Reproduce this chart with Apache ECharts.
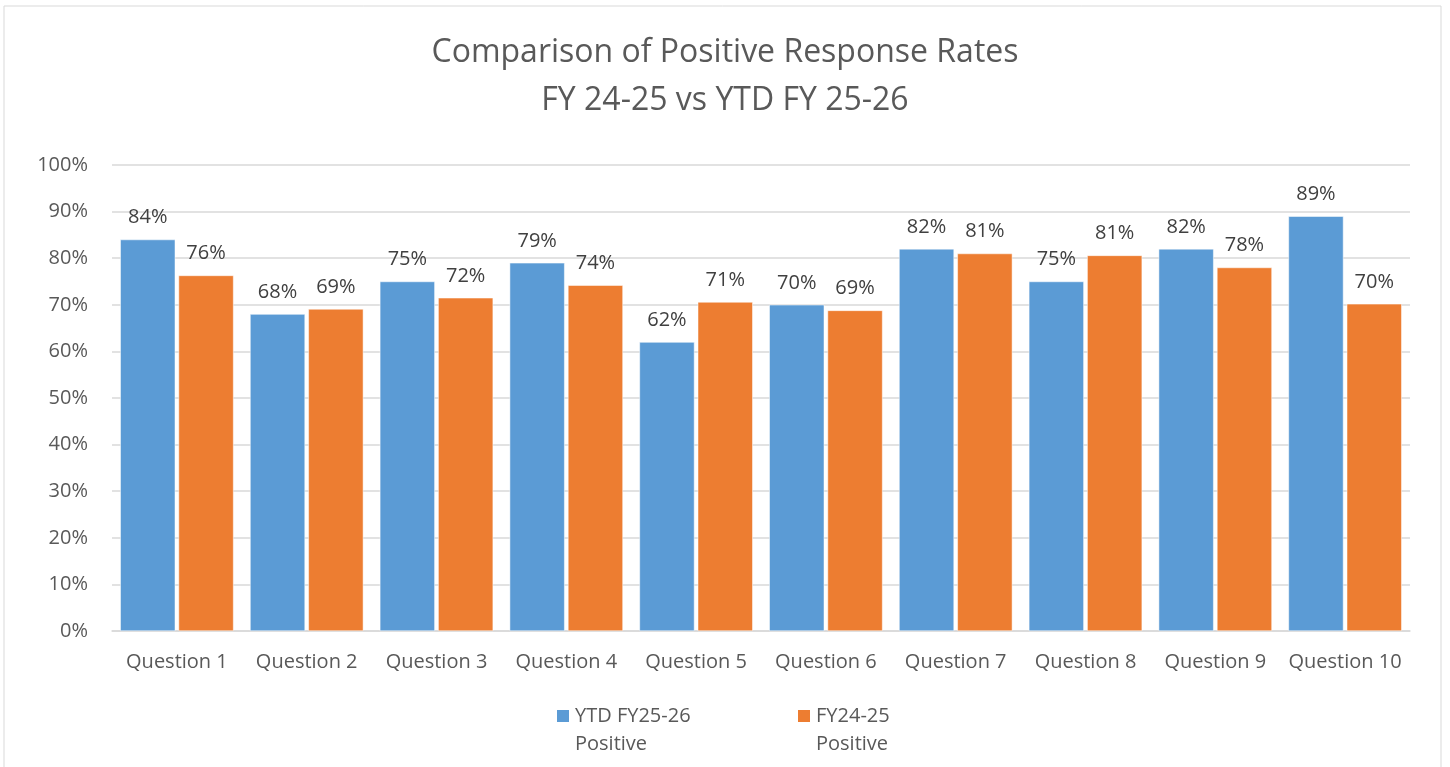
<!DOCTYPE html>
<html>
<head>
<meta charset="utf-8">
<script src="https://cdn.jsdelivr.net/npm/echarts@6/dist/echarts.min.js"></script>
<style>
  html, body { margin: 0; padding: 0; background: #fff; }
  #chart { width: 1450px; height: 767px; }
</style>
</head>
<body>
<div id="chart"></div>
<script>
// data (percent)
const questions = ['Question 1', 'Question 2', 'Question 3', 'Question 4', 'Question 5',
    'Question 6', 'Question 7', 'Question 8', 'Question 9', 'Question 10'];
const ytdPositive = [84, 68, 75, 79, 62, 70, 82, 75, 82, 89];
const priorPositive = [76.3, 69.1, 71.5, 74.2, 70.6, 68.8, 81, 80.6, 78, 70.2];
const seriesNames = ['YTD FY25-26 Positive', 'FY24-25 Positive'];
const legendText = ['YTD FY25-26\nPositive', 'FY24-25\nPositive'];

const font = '"Open Sans", "Noto Sans", sans-serif';
const textGrey = '#595959';

const chart = echarts.init(document.getElementById('chart'));

const labelOpt = {
    show: true,
    position: 'top',
    distance: 12,
    fontFamily: font,
    fontSize: 20,
    color: '#404040',
    formatter: function(p) { return Math.round(p.value) + '%'; }
};

const legendBase = {
    top: 674,
    padding: 0,
    itemWidth: 14,
    itemHeight: 14,
    icon: 'rect',
    // leading empty line keeps the icon level with the first text line
    formatter: function(name) { return '\n' + legendText[seriesNames.indexOf(name)]; },
    textStyle: {
        fontFamily: font,
        fontSize: 20,
        color: textGrey,
        lineHeight: 28
    }
};

const option = {
    backgroundColor: '#fff',
    animation: false,
    title: {
        text: 'Comparison of Positive Response Rates\nFY 24-25 vs YTD FY 25-26',
        left: 'center',
        top: 24,
        textStyle: {
            fontFamily: font,
            fontSize: 32,
            fontWeight: 'normal',
            color: textGrey,
            lineHeight: 48
        }
    },
    graphic: [{
        type: 'rect',
        shape: { x: 4, y: 6, width: 1437, height: 790 },
        style: { fill: 'none', stroke: '#d9d9d9', lineWidth: 1 },
        silent: true
    }],
    legend: [
        Object.assign({ left: 555, data: [seriesNames[0]] }, legendBase),
        Object.assign({ left: 796, data: [seriesNames[1]] }, legendBase)
    ],
    grid: { left: 112, right: 40, top: 165, bottom: 136 },
    xAxis: {
        type: 'category',
        data: questions,
        axisLine: { lineStyle: { color: '#d9d9d9', width: 1.5 } },
        axisTick: { show: false },
        axisLabel: {
            interval: 0,
            fontFamily: font,
            fontSize: 20,
            color: textGrey,
            margin: 21
        }
    },
    yAxis: {
        type: 'value',
        min: 0,
        max: 100,
        interval: 10,
        axisLine: { show: false },
        axisTick: { show: false },
        splitLine: { lineStyle: { color: '#d9d9d9', width: 1.5 } },
        axisLabel: {
            fontFamily: font,
            fontSize: 20,
            color: textGrey,
            margin: 24,
            formatter: '{value}%'
        }
    },
    series: [{
        name: seriesNames[0],
        type: 'bar',
        data: ytdPositive,
        barWidth: 55,
        barGap: '6%',
        itemStyle: { color: '#5b9bd5', borderColor: '#fff', borderWidth: 0.5 },
        label: labelOpt
    }, {
        name: seriesNames[1],
        type: 'bar',
        data: priorPositive,
        barWidth: 55,
        barGap: '6%',
        itemStyle: { color: '#ed7d31', borderColor: '#fff', borderWidth: 0.5 },
        label: labelOpt
    }]
};

chart.setOption(option);
</script>
</body>
</html>
